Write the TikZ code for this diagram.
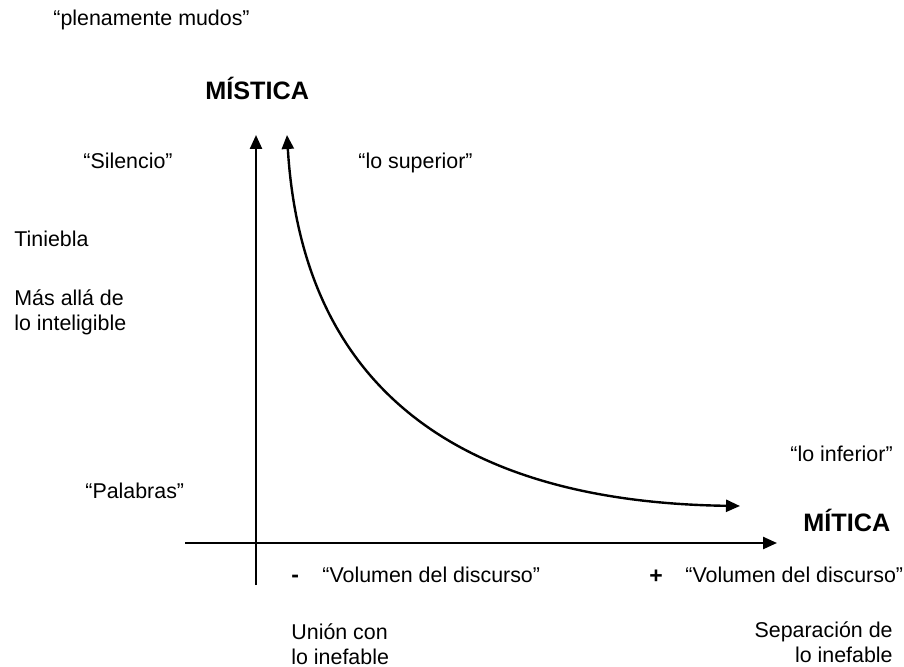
\documentclass[tikz,border=0pt]{standalone}
\usepackage{fontspec}
\setmainfont{Liberation Sans}
\usetikzlibrary{arrows.meta}

\begin{document}
\begin{tikzpicture}[x=0.5pt,y=-0.5pt,>={Triangle[length=7pt,width=6pt]},
  label/.style={anchor=base west,inner sep=0pt,align=left,
    font=\fontsize{10.7}{12.5}\selectfont},
  rlabel/.style={label,anchor=base east,align=right},
  axisname/.style={anchor=base west,inner sep=0pt,
    font=\fontsize{12.6}{15}\selectfont\bfseries},
  sign/.style={label,font=\fontsize{11.5}{14}\selectfont\bfseries},
  axis/.style={line width=1.2pt}]
\useasboundingbox (0,0) rectangle (904,667);

% axes and curve
\coordinate (vBottom) at (256,585);
\coordinate (vTop) at (256,135);
\coordinate (hLeft) at (185,543);
\coordinate (hRight) at (777,543);
\coordinate (curveTop) at (287,135);
\coordinate (curveEnd) at (740,506);

\draw[axis,->] (vBottom) -- (vTop);
\draw[axis,->] (hLeft) -- (hRight);
\draw[axis,<->] (curveTop) .. controls (302,385) and (455,502) .. (curveEnd);

% labels (multi-line nodes sit on their last line)
\node (mudos) [label] at (53,26) {“plenamente mudos”};
\node (mistica) [axisname] at (205,100) {MÍSTICA};
\node (silencio) [label] at (83,169) {“Silencio”};
\node (superior) [label] at (358,169) {“lo superior”};
\node (tiniebla) [label] at (14,247) {Tiniebla};
\node (masAlla) [label] at (14,331) {Más allá de\\lo inteligible};
\node (inferior) [label] at (790,462) {“lo inferior”};
\node (palabras) [label] at (85,499) {“Palabras”};
\node (mitica) [axisname] at (803,531) {MÍTICA};
\node (menos) [sign] at (291,582) {-};
\node (volMenos) [label] at (322,582) {“Volumen del discurso”};
\node (mas) [sign] at (649,583) {+};
\node (volMas) [label] at (685,582) {“Volumen del discurso”};
\node (union) [label] at (291,664) {Unión con\\lo inefable};
\node (separacion) [rlabel] at (893,662) {Separación de\\lo inefable};
\end{tikzpicture}
\end{document}
